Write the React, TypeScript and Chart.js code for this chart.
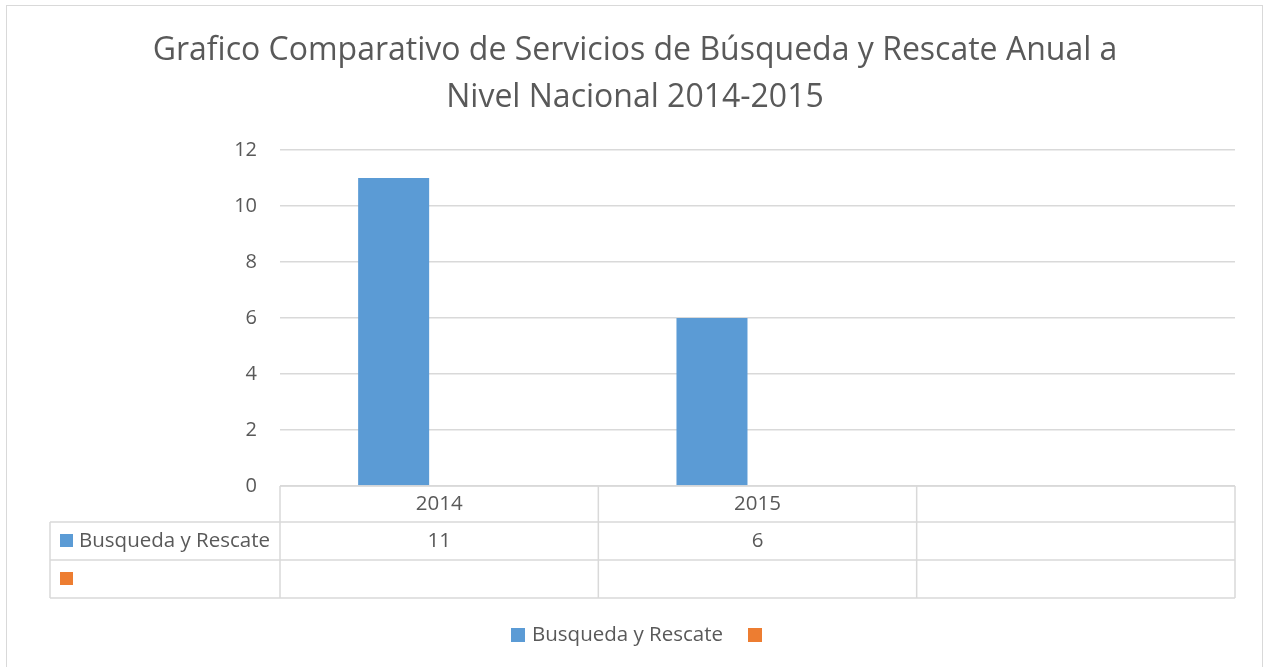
import React, { useEffect, useRef } from "react";
import { Chart, registerables } from "chart.js";

Chart.register(...registerables);

const titleLines = [
  "Grafico Comparativo de Servicios de Búsqueda y Rescate Anual a",
  "Nivel Nacional 2014-2015",
];
const categories = ["2014", "2015", ""];
const seriesNames = ["Busqueda y Rescate", ""];
const busquedaValues = [11, 6, null];
const secondValues = [null, null, null];
const seriesColors = ["#5B9BD5", "#ED7D31"];
const yTicks = { min: 0, max: 12, step: 2 };

const FONT = "'Open Sans', 'Noto Sans', sans-serif";
const TEXT = "#595959";
const GRID = "#D9D9D9";

export default function App() {
  const ref = useRef<HTMLCanvasElement>(null);

  useEffect(() => {
    document.body.style.margin = "0";
    const canvas = ref.current!;
    const seriesValues = [busquedaValues, secondValues];

    const decor = {
      id: "decor",
      afterDraw(chart: any) {
        const ctx = chart.ctx as CanvasRenderingContext2D;
        const area = chart.chartArea;
        const xs = chart.scales.x;
        ctx.save();
        // outer border
        ctx.strokeStyle = GRID;
        ctx.lineWidth = 1;
        ctx.strokeRect(6.5, 5.5, 1256, 680);

        // title
        ctx.fillStyle = TEXT;
        ctx.font = `32px ${FONT}`;
        ctx.textAlign = "center";
        ctx.textBaseline = "middle";
        titleLines.forEach((t, i) => ctx.fillText(t, 635, 51 + i * 47));

        // data table
        const rowH = [486, 522, 560, 598];
        const tableLeft = 50;
        const n = categories.length;
        const catW = (area.right - area.left) / n;
        ctx.strokeStyle = GRID;
        ctx.lineWidth = 1.5;
        ctx.beginPath();
        ctx.moveTo(area.left, rowH[0]);
        ctx.lineTo(area.right, rowH[0]);
        for (let r = 1; r < rowH.length; r++) {
          ctx.moveTo(tableLeft, rowH[r]);
          ctx.lineTo(area.right, rowH[r]);
        }
        ctx.moveTo(tableLeft, rowH[1]);
        ctx.lineTo(tableLeft, rowH[3]);
        for (let i = 0; i <= n; i++) {
          const x = area.left + i * catW;
          ctx.moveTo(x, rowH[0]);
          ctx.lineTo(x, rowH[3]);
        }
        ctx.stroke();

        ctx.font = `20.5px ${FONT}`;
        ctx.fillStyle = TEXT;
        ctx.textAlign = "center";
        categories.forEach((c, i) => {
          ctx.fillText(c, xs.getPixelForValue(i), (rowH[0] + rowH[1]) / 2);
        });
        seriesValues.forEach((vals, s) => {
          const yMid = (rowH[s + 1] + rowH[s + 2]) / 2;
          ctx.fillStyle = seriesColors[s];
          ctx.fillRect(60, yMid - 7, 13, 13);
          ctx.fillStyle = TEXT;
          ctx.textAlign = "left";
          ctx.fillText(seriesNames[s], 79, yMid);
          ctx.textAlign = "center";
          vals.forEach((v, i) => {
            if (v !== null) ctx.fillText(String(v), xs.getPixelForValue(i), yMid);
          });
        });

        // legend
        const ly = 635;
        ctx.fillStyle = seriesColors[0];
        ctx.fillRect(511, ly - 7, 14, 14);
        ctx.fillStyle = TEXT;
        ctx.textAlign = "left";
        ctx.fillText(seriesNames[0], 532, ly);
        ctx.fillStyle = seriesColors[1];
        ctx.fillRect(748, ly - 7, 14, 14);
        ctx.restore();
      },
    };

    const chart = new Chart(canvas, {
      type: "bar",
      data: {
        labels: categories,
        datasets: seriesValues.map((vals, s) => ({
          label: seriesNames[s],
          data: vals,
          backgroundColor: seriesColors[s],
          categoryPercentage: 0.572,
          barPercentage: 0.78,
        })),
      },
      options: {
        responsive: false,
        animation: false,
        layout: { padding: { top: 150, right: 29, bottom: 181, left: 0 } },
        plugins: { legend: { display: false }, title: { display: false }, tooltip: { enabled: false } },
        scales: {
          x: {
            grid: { display: false },
            border: { display: false },
            ticks: { display: false },
            afterFit: (s: any) => { s.height = 0; },
          },
          y: {
            min: yTicks.min,
            max: yTicks.max,
            ticks: { stepSize: yTicks.step, color: TEXT, font: { family: FONT, size: 20 }, padding: 23 },
            grid: { color: GRID, lineWidth: 1.5, drawTicks: false },
            border: { display: false },
            afterFit: (s: any) => { s.width = 280; },
          },
        },
      },
      plugins: [decor],
    });
    return () => chart.destroy();
  }, []);

  return <canvas ref={ref} width={1264} height={667} style={{ display: "block", width: 1264, height: 667 }} />;
}
